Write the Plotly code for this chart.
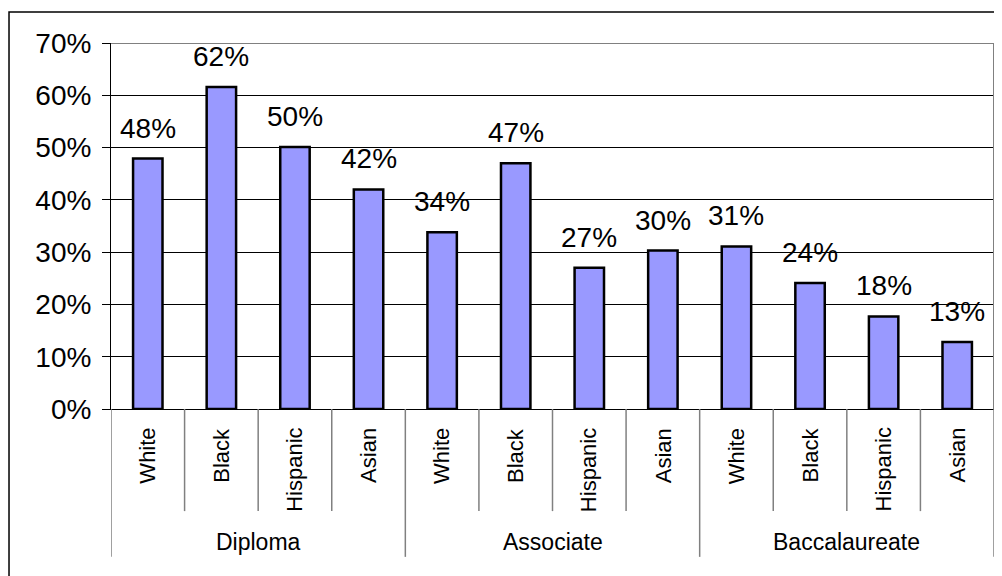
import plotly.graph_objects as go

groups = ["Diploma", "Associate", "Baccalaureate"]
races = ["White", "Black", "Hispanic", "Asian"]
values = [0.479, 0.616, 0.501, 0.420,
          0.338, 0.470, 0.270, 0.303,
          0.311, 0.241, 0.177, 0.128]
labels = ["48%", "62%", "50%", "42%",
          "34%", "47%", "27%", "30%",
          "31%", "24%", "18%", "13%"]
yticks = [0, 0.1, 0.2, 0.3, 0.4, 0.5, 0.6, 0.7]

FONT = "Liberation Sans, Arial, sans-serif"
n = len(values)
xs = list(range(n))

fig = go.Figure()
fig.add_trace(go.Bar(
    x=xs, y=values, width=0.4,
    marker=dict(color="#9999FF", line=dict(color="black", width=2.5)),
    hoverinfo="skip", showlegend=False,
))

annotations = []
# data labels
for x, v, t in zip(xs, values, labels):
    annotations.append(dict(x=x, y=v, xref="x", yref="y", text=t, showarrow=False,
                            yanchor="bottom", yshift=13,
                            font=dict(family=FONT, size=28, color="black")))
# race labels (rotated)
for i in range(n):
    annotations.append(dict(x=i, y=-0.046, xref="x", yref="paper",
                            text=races[i % len(races)], textangle=-90, showarrow=False,
                            yanchor="top", xanchor="center",
                            font=dict(family=FONT, size=22, color="black")))
# group labels
for g, name in enumerate(groups):
    annotations.append(dict(x=g * 4 + 1.5, y=-0.364, xref="x", yref="paper",
                            text=name, showarrow=False, yanchor="middle",
                            font=dict(family=FONT, size=23, color="black")))

shapes = []
# separators below axis
for i in range(n + 1):
    b = i - 0.5
    is_group = (i % 4 == 0)
    shapes.append(dict(type="line", xref="x", yref="paper", x0=b, x1=b,
                       y0=0, y1=(-0.404 if is_group else -0.279),
                       line=dict(color="#808080", width=1.5)))
# plot-area top and right border (gray)
shapes.append(dict(type="line", xref="paper", yref="y", x0=0, x1=1, y0=0.7, y1=0.7,
                   line=dict(color="#808080", width=2)))
shapes.append(dict(type="line", xref="paper", yref="paper", x0=1, x1=1, y0=0, y1=1,
                   line=dict(color="#808080", width=2)))
# outer chart border
shapes.append(dict(type="rect", xref="paper", yref="paper", x0=-0.1155, x1=1.3,
                   y0=-0.8, y1=1.0847, line=dict(color="black", width=1.5),
                   fillcolor="rgba(0,0,0,0)"))

fig.update_layout(
    width=994, height=568,
    margin=dict(l=103, r=8, t=35, b=167),
    plot_bgcolor="white", paper_bgcolor="white",
    font=dict(family=FONT, color="black"),
    annotations=annotations, shapes=shapes,
    bargap=0.6,
    xaxis=dict(range=[-0.5, n - 0.5], showticklabels=False, showgrid=False,
               zeroline=False, showline=True, linecolor="black", linewidth=1,
               ticks="", fixedrange=True),
    yaxis=dict(range=[0, 0.7], tickvals=yticks, tickformat=".0%",
               showgrid=True, gridcolor="black", gridwidth=1,
               zeroline=False, showline=True, linecolor="black", linewidth=1,
               ticks="outside", ticklen=8, tickcolor="black", tickwidth=1,
               ticklabelstandoff=5,
               tickfont=dict(family=FONT, size=28, color="black"),
               fixedrange=True),
)

fig.write_html("out.html")
